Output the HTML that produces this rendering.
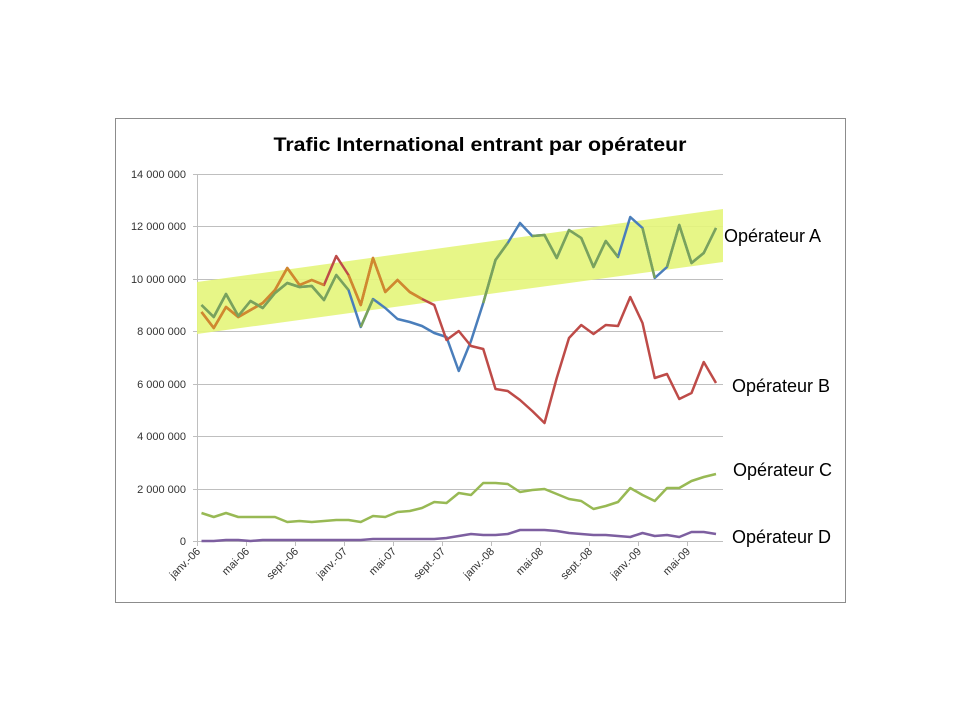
<!DOCTYPE html>
<html><head><meta charset="utf-8"><style>
html,body{margin:0;padding:0;background:#fff;}
svg{display:block;font-family:"Liberation Sans",sans-serif;}
</style></head><body>
<svg width="960" height="720" viewBox="0 0 960 720" xmlns="http://www.w3.org/2000/svg">
<rect x="115.5" y="118.5" width="730" height="484" fill="#fff" stroke="#8c8c8c" stroke-width="1"/>
<text x="480" y="151" text-anchor="middle" font-size="19" font-weight="bold" textLength="413" lengthAdjust="spacingAndGlyphs">Trafic International entrant par opérateur</text>
<g stroke="#bfbfbf" stroke-width="1">
<line x1="193" y1="174.5" x2="723" y2="174.5"/>
<line x1="193" y1="226.5" x2="723" y2="226.5"/>
<line x1="193" y1="279.5" x2="723" y2="279.5"/>
<line x1="193" y1="331.5" x2="723" y2="331.5"/>
<line x1="193" y1="384.5" x2="723" y2="384.5"/>
<line x1="193" y1="436.5" x2="723" y2="436.5"/>
<line x1="193" y1="489.5" x2="723" y2="489.5"/>
<line x1="193" y1="541.5" x2="723" y2="541.5"/>
<line x1="197.5" y1="174" x2="197.5" y2="545"/>
</g>
<g stroke="#bfbfbf"><line x1="197.5" y1="541" x2="197.5" y2="546"/><line x1="246.5" y1="541" x2="246.5" y2="546"/><line x1="295.5" y1="541" x2="295.5" y2="546"/><line x1="344.5" y1="541" x2="344.5" y2="546"/><line x1="393.5" y1="541" x2="393.5" y2="546"/><line x1="442.5" y1="541" x2="442.5" y2="546"/><line x1="491.5" y1="541" x2="491.5" y2="546"/><line x1="540.5" y1="541" x2="540.5" y2="546"/><line x1="589.5" y1="541" x2="589.5" y2="546"/><line x1="638.5" y1="541" x2="638.5" y2="546"/><line x1="687.5" y1="541" x2="687.5" y2="546"/></g>
<g font-size="11" fill="#333" text-anchor="end">
<text x="186" y="178">14 000 000</text>
<text x="186" y="230">12 000 000</text>
<text x="186" y="283">10 000 000</text>
<text x="186" y="335">8 000 000</text>
<text x="186" y="388">6 000 000</text>
<text x="186" y="440">4 000 000</text>
<text x="186" y="493">2 000 000</text>
<text x="186" y="545">0</text>
</g>
<g font-size="11" fill="#333" text-anchor="end">
<text transform="translate(201,552) rotate(-45)">janv.-06</text>
<text transform="translate(250,552) rotate(-45)">mai-06</text>
<text transform="translate(299,552) rotate(-45)">sept.-06</text>
<text transform="translate(348,552) rotate(-45)">janv.-07</text>
<text transform="translate(397,552) rotate(-45)">mai-07</text>
<text transform="translate(446,552) rotate(-45)">sept.-07</text>
<text transform="translate(495,552) rotate(-45)">janv.-08</text>
<text transform="translate(544,552) rotate(-45)">mai-08</text>
<text transform="translate(593,552) rotate(-45)">sept.-08</text>
<text transform="translate(642,552) rotate(-45)">janv.-09</text>
<text transform="translate(691,552) rotate(-45)">mai-09</text>
</g>
<polygon points="197,282 723,209 723,262 197,334" fill="#e4f57a" opacity="0.9"/>
<g fill="none" stroke-width="2.5" stroke-linejoin="round">
<polyline stroke="#4a7ebb" points="201.5,305 213.75,317 226,294 238.25,316 250.5,301 262.75,308 275,293 287.25,283 299.5,287 311.75,286 324,300 336.25,275 348.5,290 360.75,327 373,299 385.25,308 397.5,319 409.75,322 422,326 434.25,333 446.5,337 458.75,371 471,341 483.25,303 495.5,260 507.75,243 520,223 532.25,236 544.5,235 556.75,258 569,230 581.25,238 593.5,267 605.75,241 618,257 630.25,217 642.5,228 654.75,278 667,267 679.25,225 691.5,263 703.75,253 716,228"/>
<polyline stroke="#be4b48" points="201.5,312 213.75,328 226,307 238.25,317 250.5,310 262.75,303 275,290 287.25,268 299.5,285 311.75,280 324,285 336.25,256 348.5,275 360.75,305 373,258 385.25,292 397.5,280 409.75,292 422,299 434.25,305 446.5,340 458.75,331 471,346 483.25,349 495.5,389 507.75,391 520,400 532.25,411 544.5,423 556.75,378 569,338 581.25,325 593.5,334 605.75,325 618,326 630.25,297 642.5,323 654.75,378 667,374 679.25,399 691.5,393 703.75,362 716,383"/>
<g stroke="#d0892e">
<polyline points="201.5,312 213.75,328 226,307 238.25,317 250.5,310 262.75,303 275,290 287.25,268 299.5,285 311.75,280 324,285"/>
<polyline points="348.5,275 360.75,305 373,258 385.25,292 397.5,280 409.75,292 422,299"/>
</g>
<g stroke="#7aa35a">
<polyline points="201.5,305 213.75,317 226,294 238.25,316 250.5,301 262.75,308 275,293 287.25,283 299.5,287 311.75,286 324,300 336.25,275 348.5,290"/>
<polyline points="360.75,327 373,299"/>
<polyline points="483.25,303 495.5,260 507.75,243"/>
<polyline points="532.25,236 544.5,235 556.75,258 569,230 581.25,238 593.5,267 605.75,241 618,257"/>
<polyline points="642.5,228 654.75,278"/>
<polyline points="667,267 679.25,225 691.5,263 703.75,253 716,228"/>
</g>
<polyline stroke="#98b954" points="201.5,513 213.75,517 226,513 238.25,517 250.5,517 262.75,517 275,517 287.25,522 299.5,521 311.75,522 324,521 336.25,520 348.5,520 360.75,522 373,516 385.25,517 397.5,512 409.75,511 422,508 434.25,502 446.5,503 458.75,493 471,495 483.25,483 495.5,483 507.75,484 520,492 532.25,490 544.5,489 556.75,494 569,499 581.25,501 593.5,509 605.75,506 618,502 630.25,488 642.5,495 654.75,501 667,488 679.25,488 691.5,481 703.75,477 716,474"/>
<polyline stroke="#7d5fa0" points="201.5,541 213.75,541 226,540 238.25,540 250.5,541 262.75,540 275,540 287.25,540 299.5,540 311.75,540 324,540 336.25,540 348.5,540 360.75,540 373,539 385.25,539 397.5,539 409.75,539 422,539 434.25,539 446.5,538 458.75,536 471,534 483.25,535 495.5,535 507.75,534 520,530 532.25,530 544.5,530 556.75,531 569,533 581.25,534 593.5,535 605.75,535 618,536 630.25,537 642.5,533 654.75,536 667,535 679.25,537 691.5,532 703.75,532 716,534"/>
</g>
<g font-size="18" fill="#000">
<text x="724" y="242">Opérateur A</text>
<text x="732" y="392">Opérateur B</text>
<text x="733" y="476">Opérateur C</text>
<text x="732" y="543">Opérateur D</text>
</g>
</svg>
</body></html>
